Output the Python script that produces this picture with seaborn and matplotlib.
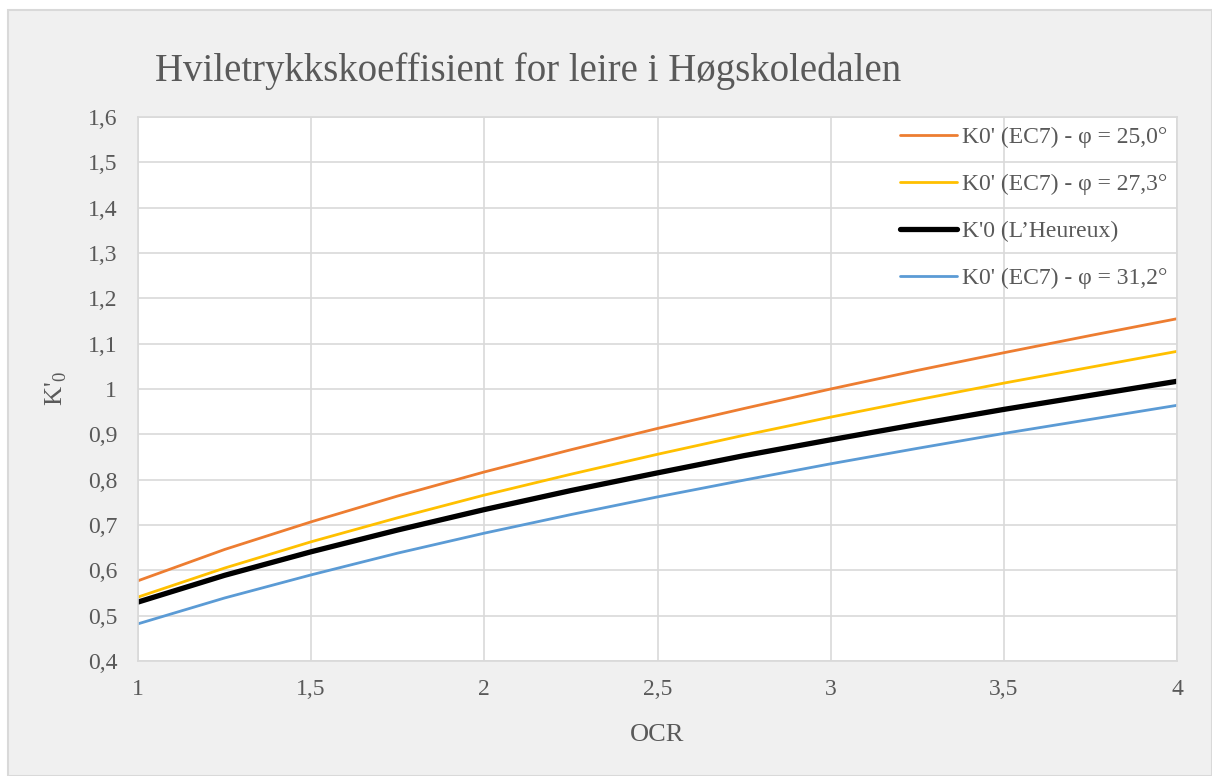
import matplotlib
matplotlib.use("Agg")
import matplotlib.pyplot as plt
import matplotlib.ticker as mticker
from matplotlib.patches import Rectangle
import seaborn as sns
import pandas as pd

# Values
ocr = [1.0, 1.25, 1.5, 1.75, 2.0, 2.25, 2.5, 2.75, 3.0, 3.25, 3.5, 3.75, 4.0]
k0_phi25 = [0.577, 0.646, 0.707, 0.764, 0.817, 0.866, 0.913, 0.957, 1.000, 1.041, 1.080, 1.118, 1.155]
k0_phi273 = [0.541, 0.605, 0.663, 0.716, 0.766, 0.812, 0.856, 0.898, 0.938, 0.976, 1.013, 1.048, 1.083]
k0_lheureux = [0.530, 0.589, 0.641, 0.689, 0.734, 0.776, 0.815, 0.853, 0.888, 0.922, 0.955, 0.986, 1.017]
k0_phi312 = [0.482, 0.539, 0.590, 0.638, 0.682, 0.723, 0.762, 0.799, 0.835, 0.869, 0.902, 0.933, 0.964]

series_names = ["K0' (EC7) - φ = 25,0°", "K0' (EC7) - φ = 27,3°",
                "K'0 (L’Heureux)", "K0' (EC7) - φ = 31,2°"]
series_values = [k0_phi25, k0_phi273, k0_lheureux, k0_phi312]
colors = ["#ED7D31", "#FFC000", "#000000", "#5B9BD5"]
widths = [2.0, 2.0, 3.8, 2.0]

sns.set_theme(style="white")
plt.rcParams['font.family'] = ['Liberation Serif', 'DejaVu Serif']
plt.rcParams['mathtext.fontset'] = 'custom'
plt.rcParams['mathtext.rm'] = 'Liberation Serif'

text_col = "#595959"
grid_col = "#D9D9D9"

fig = plt.figure(figsize=(12.12, 7.76), dpi=100, facecolor="white")
# chart area panel
fig.patches.append(Rectangle((8 / 1212, 0), 1 - 8 / 1212, 1 - 10 / 776,
                             transform=fig.transFigure, facecolor="#F0F0F0",
                             edgecolor="#D9D9D9", linewidth=1.5, zorder=-5))
ax = fig.add_axes([138 / 1212, 1 - 661 / 776, (1177 - 138) / 1212, (661 - 117) / 776])
ax.set_facecolor("white")

for name, vals, c, w in zip(series_names, series_values, colors, widths):
    df = pd.DataFrame({"OCR": ocr, "K0": vals})
    sns.lineplot(data=df, x="OCR", y="K0", ax=ax, color=c, linewidth=w, label=name)

ax.set_xlim(1, 4)
ax.set_ylim(0.4, 1.6)
ax.xaxis.set_major_locator(mticker.MultipleLocator(0.5))
ax.yaxis.set_major_locator(mticker.MultipleLocator(0.1))


def comma_fmt(v, pos):
    s = f"{v:.1f}"
    if s.endswith(".0"):
        s = s[:-2]
    return s.replace(".", ",")


ax.xaxis.set_major_formatter(mticker.FuncFormatter(comma_fmt))
ax.yaxis.set_major_formatter(mticker.FuncFormatter(comma_fmt))
ax.grid(True, color=grid_col, linewidth=1.2)
for sp in ax.spines.values():
    sp.set_color(grid_col)
    sp.set_linewidth(1.2)
ax.tick_params(axis="both", length=0, labelsize=17, colors=text_col)
ax.tick_params(axis="x", pad=13)
ax.tick_params(axis="y", pad=15)

ax.set_xlabel("OCR", fontsize=19, color=text_col, labelpad=17)
ax.set_ylabel(r"K'$_\mathregular{0}$", fontsize=19, color=text_col, labelpad=13)

fig.text(155 / 1212, 1 - 71 / 776, "Hviletrykkskoeffisient for leire i Høgskoledalen",
         fontsize=28, color=text_col, ha="left", va="center")

leg = ax.legend(loc="upper right", frameon=False, fontsize=17, handlelength=2.45,
                handletextpad=0.2, labelspacing=1.08, borderaxespad=0.2,
                borderpad=0.2)
for t in leg.get_texts():
    t.set_color(text_col)

fig.savefig("out.png", dpi=100, facecolor=fig.get_facecolor())
